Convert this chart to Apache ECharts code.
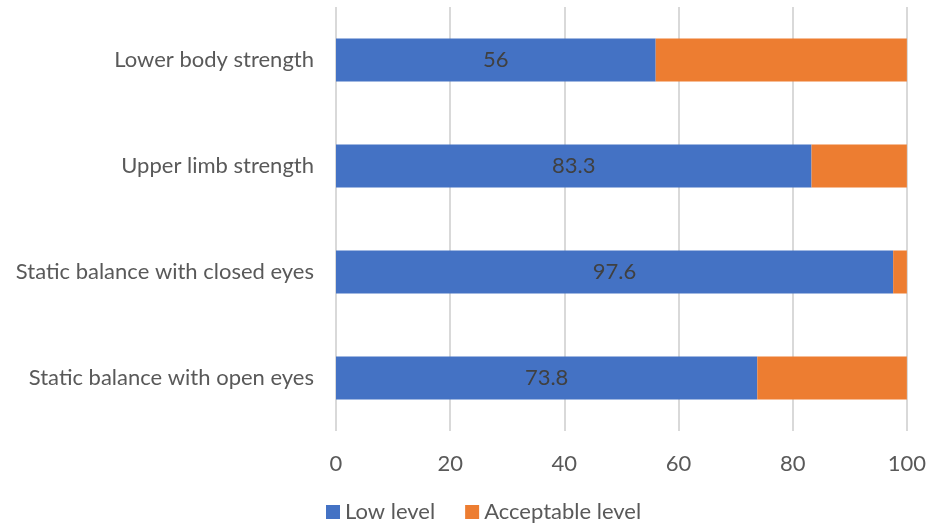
<!DOCTYPE html>
<html><head><meta charset="utf-8">
<script src="https://cdn.jsdelivr.net/npm/echarts@6/dist/echarts.min.js"></script>
<style>html,body{margin:0;padding:0;background:#fff}#c{width:929px;height:528px}</style>
</head><body><div id="c"></div>
<script>
const categories = ["Static balance with open eyes", "Static balance with closed eyes", "Upper limb strength", "Lower body strength"];
const lowLevel = [73.8, 97.6, 83.3, 56];
const acceptableLevel = [26.2, 2.4, 16.7, 44];
const xTicks = [0, 20, 40, 60, 80, 100];

const FONT = 'Lato';
const FS = 22;
const chart = echarts.init(document.getElementById('c'));
chart.setOption({
  animation: false,
  textStyle: { fontFamily: FONT },
  grid: { left: 336, right: 22, top: 7, bottom: 97, containLabel: false },
  legend: {
    bottom: 0, left: 321,
    itemWidth: 14, itemHeight: 14, itemGap: 30,
    icon: 'rect',
    textStyle: { color: '#595959', fontSize: FS, fontFamily: FONT },
    data: ['Low level', 'Acceptable level']
  },
  xAxis: {
    type: 'value', min: xTicks[0], max: xTicks[xTicks.length - 1], interval: 20,
    axisLine: { show: false }, axisTick: { show: false },
    splitLine: { lineStyle: { color: '#d9d9d9', width: 2 } },
    axisLabel: { color: '#595959', fontSize: FS, margin: 22, fontFamily: FONT }
  },
  yAxis: {
    type: 'category', data: categories,
    axisLine: { show: false }, axisTick: { show: false },
    axisLabel: { color: '#595959', fontSize: FS, margin: 22, fontFamily: FONT }
  },
  series: [
    {
      name: 'Low level', type: 'bar', stack: 't', data: lowLevel, barWidth: 43,
      itemStyle: { color: '#4472c4' },
      label: { show: true, position: 'inside', color: '#404040', fontSize: FS, fontFamily: FONT }
    },
    {
      name: 'Acceptable level', type: 'bar', stack: 't', data: acceptableLevel, barWidth: 43,
      itemStyle: { color: '#ed7d31' }
    }
  ]
});
</script></body></html>
